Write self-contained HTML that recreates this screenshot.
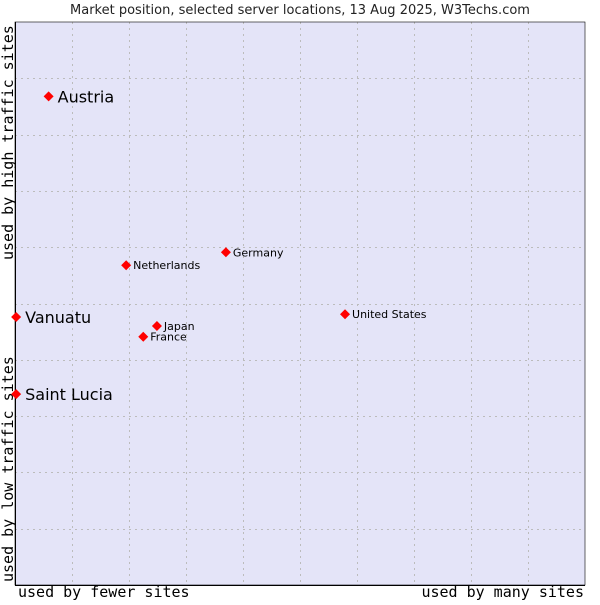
<!DOCTYPE html>
<html><head><meta charset="utf-8"><style>
body{margin:0;background:#fff;}
svg text{font-family:"DejaVu Sans","Liberation Sans",sans-serif;}
</style></head><body>
<svg id="c" width="600" height="600" xmlns="http://www.w3.org/2000/svg">
<text x="300" y="14" font-size="13" text-anchor="middle" fill="#222">Market position, selected server locations, 13 Aug 2025, W3Techs.com</text>
<rect x="15" y="22" width="570" height="563" fill="#e4e4f8" stroke="none"/>
<g id="grid"></g>
<rect x="15" y="22" width="570" height="563" fill="none" stroke="#000" stroke-width="0.6"/>
<path d="M15.5 22 V585.5 H585" fill="none" stroke="#000" stroke-width="1"/>
<text x="18" y="597" font-size="15" fill="#000" style="font-family:'DejaVu Sans Mono','Liberation Mono',monospace">used by fewer sites</text>
<text x="584" y="597" text-anchor="end" font-size="15" fill="#000" style="font-family:'DejaVu Sans Mono','Liberation Mono',monospace">used by many sites</text>
<text transform="translate(13,582) rotate(-90)" font-size="15" fill="#000" style="font-family:'DejaVu Sans Mono','Liberation Mono',monospace">used by low traffic sites</text>
<text transform="translate(13,260) rotate(-90)" font-size="15" fill="#000" style="font-family:'DejaVu Sans Mono','Liberation Mono',monospace">used by high traffic sites</text>
<g id="pts"></g>
</svg>
<script>
const names = ["Austria","Vanuatu","Saint Lucia","Netherlands","Germany","Japan","France","United States"];
const xVals = [5.9,0.2,0.2,19.5,37.0,24.9,22.5,57.9];
const yVals = [86.8,47.6,33.9,56.8,59.1,46.0,44.1,48.1];
const bigLabel = [true,true,true,false,false,false,false,false];
const NS="http://www.w3.org/2000/svg";
const X0=15,X1=585,Y0=585,Y1=22;
const xs=v=>X0+(X1-X0)*v/100;
const ys=v=>Y0-(Y0-Y1)*v/100;
const grid=document.getElementById('grid');
for(let i=1;i<10;i++){
  const gx=Math.round(xs(i*10))+0.5, gy=Math.round(ys(i*10))+0.5;
  const l1=document.createElementNS(NS,'line');
  l1.setAttribute('x1',gx);l1.setAttribute('x2',gx);l1.setAttribute('y1',Y1);l1.setAttribute('y2',Y0);
  l1.setAttribute('stroke','#bcbcbc');l1.setAttribute('stroke-dasharray','2,4');
  
  
  grid.appendChild(l1);
  const l2=document.createElementNS(NS,'line');
  l2.setAttribute('y1',gy);l2.setAttribute('y2',gy);l2.setAttribute('x1',X0);l2.setAttribute('x2',X1);
  l2.setAttribute('stroke','#bcbcbc');l2.setAttribute('stroke-dasharray','2,4');
  
  
  grid.appendChild(l2);
}
const pts=document.getElementById('pts');
names.forEach((n,i)=>{
  const cx=xs(xVals[i]), cy=ys(yVals[i]);
  const d=document.createElementNS(NS,'path');
  d.setAttribute('d',`M${cx} ${cy-5} L${cx+5} ${cy} L${cx} ${cy+5} L${cx-5} ${cy} Z`);
  d.setAttribute('fill','#f00');
  
  
  pts.appendChild(d);
  const t=document.createElementNS(NS,'text');
  t.setAttribute('x',cx+(bigLabel[i]?9:7));
  t.setAttribute('y',cy+(bigLabel[i]?6:4));
  t.setAttribute('font-size',bigLabel[i]?16:11);
  t.setAttribute('fill','#000');
  t.textContent=n;
  
  
  pts.appendChild(t);
});
</script>
</body></html>
